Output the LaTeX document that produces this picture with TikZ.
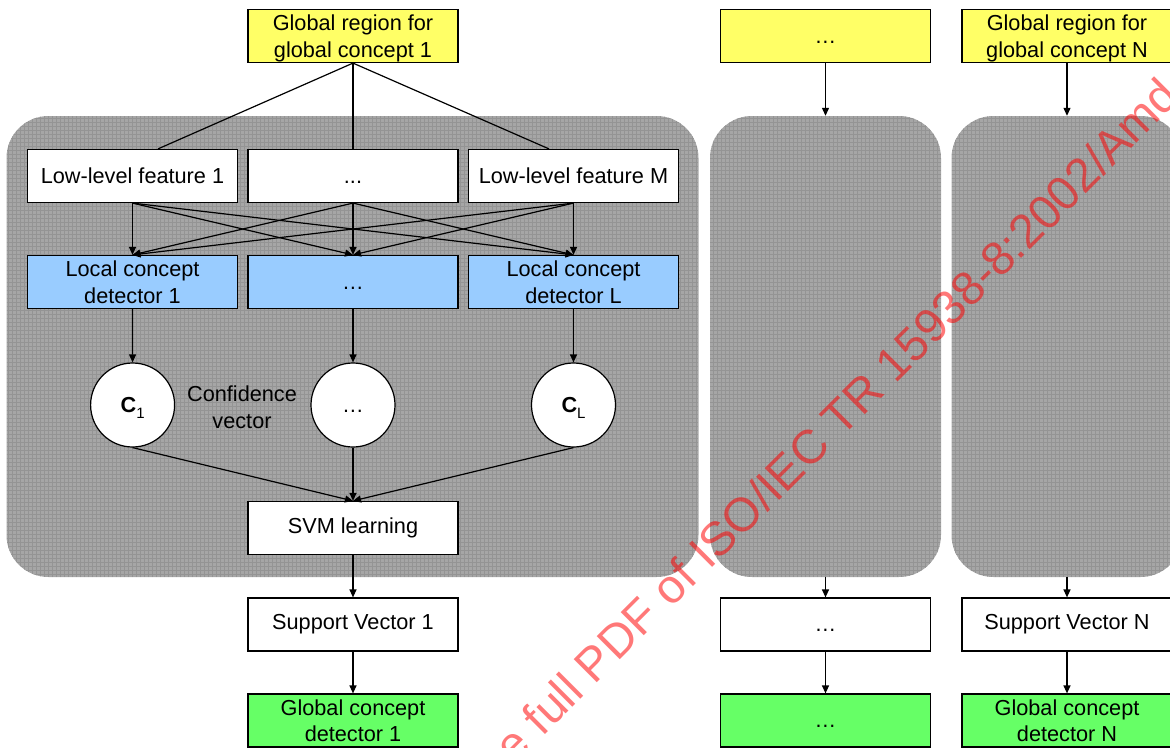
\documentclass[tikz,border=0pt]{standalone}
\usepackage{fontspec}
\setmainfont{Liberation Sans}
\usetikzlibrary{arrows.meta}
\definecolor{panelgray}{RGB}{166,166,166}
\definecolor{panelline}{RGB}{148,148,148}
\definecolor{regionyellow}{RGB}{255,255,102}
\definecolor{detectorblue}{RGB}{153,204,255}
\definecolor{conceptgreen}{RGB}{102,255,102}
\begin{document}
\begin{tikzpicture}[x=1pt,y=-1pt,
  every node/.style={font=\fontsize{21.7}{26.5}\selectfont, align=center, inner sep=0pt},
  panel/.style={fill=panelgray, rounded corners=42pt, minimum width=231pt, minimum height=461pt,
    path picture={\draw[panelline, line width=0.7pt]
      (path picture bounding box.south west) grid[step=4pt] (path picture bounding box.north east);}},
  box/.style={draw=black, line width=1.2pt, fill=white, minimum width=210pt, minimum height=53pt},
  regionbox/.style={box, fill=regionyellow, text depth=0pt},
  localbox/.style={box, fill=detectorblue},
  globalbox/.style={box, fill=conceptgreen},
  conf/.style={circle, draw=black, line width=1.2pt, fill=white, minimum size=84pt},
  link/.style={line width=1.2pt},
  arr/.style={line width=1.2pt, -{Triangle[length=8pt,width=7pt]}},
  stamptext/.style={font=\fontsize{47.5}{57}\selectfont, text=red, text opacity=0.53, inner sep=0pt}
]
\useasboundingbox (0,0) rectangle (1170,747);
\clip (0,0) rectangle (1170,747);

% grey processing panels, one per global concept
\node[panel, minimum width=692pt] (p1) at (352.5,346.5) {};
\node[panel] (p2) at (825.5,346.5) {};
\node[panel] (p3) at (1067,346.5) {};

% global regions
\node[regionbox] (y1) at (353,36) {Global region for\\global concept 1};
\node[regionbox] (y2) at (825.5,36) {\vphantom{1}…};
\node[regionbox] (y3) at (1067,36) {Global region for\\global concept N};

% low-level features
\node[box] (f1) at (132.5,176) {Low-level feature 1};
\node[box] (fm) at (353,176) {\vphantom{1}...};
\node[box] (fM) at (573.5,176) {Low-level feature M};

% local concept detectors
\node[localbox] (d1) at (132.5,282) {Local concept\\detector 1};
\node[localbox] (dm) at (353,282) {\vphantom{1}…};
\node[localbox] (dL) at (573.5,282) {Local concept\\detector L};

% confidence values
\node[conf] (c1) at (132.6,405) {\textbf{C}\smash{\raisebox{-6pt}{\fontsize{15}{15}\selectfont 1}}};
\node[conf] (cm) at (353,405) {\vphantom{1}…};
\node[conf] (cL) at (573.5,405) {\textbf{C}\smash{\raisebox{-6pt}{\fontsize{15}{15}\selectfont L}}};
\node (cv) at (242,407) {Confidence\\vector};

% learning and outputs
\node[box] (svm) at (353,528) {SVM learning};
\node[box] (sv1) at (353,624.5) {Support Vector 1};
\node[box] (sv2) at (825.5,624.5) {\vphantom{1}…};
\node[box] (sv3) at (1067,624.5) {Support Vector N};
\node[globalbox] (g1) at (353,720.5) {Global concept\\detector 1};
\node[globalbox] (g2) at (825.5,720.5) {\vphantom{1}…};
\node[globalbox] (g3) at (1067,720.5) {Global concept\\detector N};

% region to features
\draw[link] (y1.south) -- ([xshift=25.5pt]f1.north);
\draw[link] (y1.south) -- (fm.north);
\draw[link] (y1.south) -- ([xshift=-24.5pt]fM.north);

% every feature feeds every local detector
\foreach \a in {f1,fm,fM}
  \foreach \b in {d1,dm,dL}
    \draw[arr] (\a.south) -- (\b.north);

% detectors to confidences
\draw[arr] (d1) -- (c1);
\draw[arr] (dm) -- (cm);
\draw[arr] (dL) -- (cL);

% confidence vector into SVM
\draw[arr] (c1.south) -- (svm.north);
\draw[arr] (cm.south) -- (svm.north);
\draw[arr] (cL.south) -- (svm.north);

\draw[arr] (svm) -- (sv1);
\draw[arr] (sv1) -- (g1);

% further concepts
\draw[arr] (y2) -- (p2);
\draw[arr] (p2) -- (sv2);
\draw[arr] (sv2) -- (g2);
\draw[arr] (y3) -- (p3);
\draw[arr] (p3) -- (sv3);
\draw[arr] (sv3) -- (g3);

% diagonal stamp
\node[stamptext, anchor=base west, rotate=45] (mk2) at (709,571) {ISO/IEC TR 15938-8:2002/Amd};
\node[stamptext, anchor=base east, rotate=45] (mk1) at (709,571) {Click to view the full PDF of\kern0.278em};
\end{tikzpicture}
\end{document}
